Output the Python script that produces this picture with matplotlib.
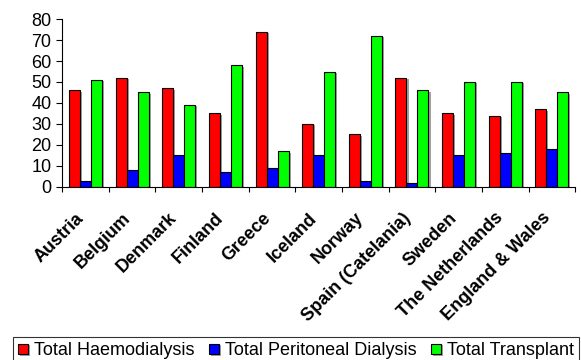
import numpy as np
import matplotlib.pyplot as plt
import matplotlib.patheffects as pe

plt.rcParams['font.family'] = ['Liberation Sans', 'DejaVu Sans']

countries = ['Austria', 'Belgium', 'Denmark', 'Finland', 'Greece', 'Iceland',
             'Norway', 'Spain (Catelania)', 'Sweden', 'The Netherlands',
             'England & Wales']
haemo = [46, 52, 47, 35, 74, 30, 25, 52, 35, 34, 37]
perit = [3, 8, 15, 7, 9, 15, 3, 2, 15, 16, 18]
transplant = [51, 45, 39, 58, 17, 55, 72, 46, 50, 50, 45]

series = [
    ('Total Haemodialysis', haemo, '#ff0000'),
    ('Total Peritoneal Dialysis', perit, '#0000ff'),
    ('Total Transplant', transplant, '#00ff00'),
]

fig = plt.figure(figsize=(5.81, 3.6), dpi=100)
ax = fig.add_axes([0.107, 0.481, 0.883, 0.466])

x = np.arange(len(countries))
w = 0.236
shadow = [pe.SimplePatchShadow(offset=(1.5, -1), shadow_rgbFace='#888888', alpha=0.8), pe.Normal()]
handles = []
for i, (name, vals, col) in enumerate(series):
    b = ax.bar(x + (i - 1) * w, vals, w, color=col, edgecolor='black',
               linewidth=0.8, label=name, path_effects=shadow)
    handles.append(b)

ax.set_xlim(-0.5, len(countries) - 0.5)
ax.set_ylim(0, 80)
ax.set_yticks(range(0, 81, 10))
ax.tick_params(axis='y', labelsize=13, length=4.3, width=0.8, pad=3.5)

# ticks sit between the groups, labels at the group centres
ax.set_xticks(np.arange(-0.5, len(countries), 1.0))
ax.set_xticklabels([])
ax.tick_params(axis='x', length=3.8, width=0.8)
for xi, name in zip(x, countries):
    ax.text(xi - 0.22, -10.8, name, rotation=45, ha='right', va='top',
            rotation_mode='anchor', fontsize=13, fontweight='bold',
            transform=ax.transData)

ax.spines['top'].set_visible(False)
ax.spines['right'].set_visible(False)

leg = fig.legend(handles=handles, loc='upper left', ncol=3,
                 bbox_to_anchor=(0.022, 0.064), fontsize=13, frameon=True,
                 fancybox=False, edgecolor='black', handlelength=0.55,
                 handleheight=0.55, handletextpad=0.33, columnspacing=0.8,
                 borderpad=0.3, borderaxespad=0)
leg.get_frame().set_linewidth(0.8)

fig.savefig('out.png', dpi=100)
